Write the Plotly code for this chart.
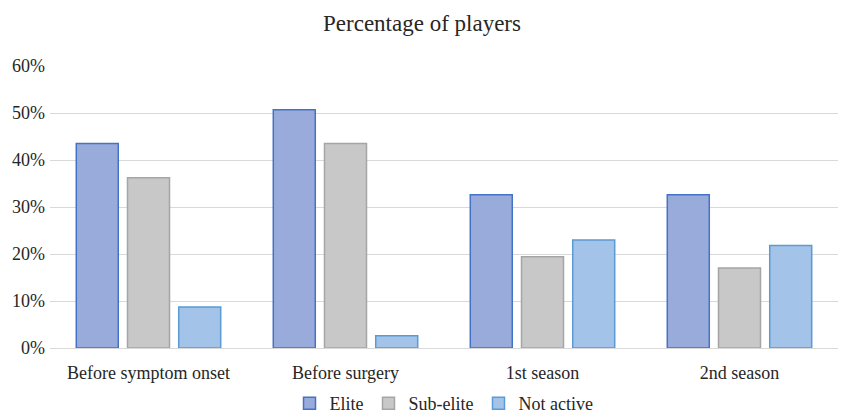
import plotly.graph_objects as go

categories = ["Before symptom onset", "Before surgery", "1st season", "2nd season"]
elite = [43.5, 50.7, 32.6, 32.6]
sub_elite = [36.2, 43.5, 19.4, 17.0]
not_active = [8.7, 2.6, 23.0, 21.8]

series = [
    ("Elite", elite, "#99abdb", "#4472c4"),
    ("Sub-elite", sub_elite, "#c8c8c8", "#a5a5a5"),
    ("Not active", not_active, "#a3c3e8", "#5b9bd5"),
]

fig = go.Figure()
for name, vals, fill, edge in series:
    fig.add_trace(go.Bar(
        x=categories, y=vals, name=name,
        marker=dict(color=fill, line=dict(color=edge, width=1.5)),
    ))

font_family = "Liberation Serif, Times New Roman, serif"
fig.update_layout(
    width=844, height=416,
    margin=dict(l=50, r=6, t=66, b=68, autoexpand=False),
    paper_bgcolor="white", plot_bgcolor="white",
    font=dict(family=font_family, size=18, color="#262626"),
    title=dict(text="Percentage of players", x=0.5, xanchor="center",
               y=0.945, yanchor="middle", font=dict(size=23, color="#262626")),
    barmode="group", bargap=0.22, bargroupgap=0.18,
    showlegend=True,
    legend=dict(orientation="h", x=0.5, xanchor="center",
                yref="container", y=0.03, yanchor="middle",
                bgcolor="rgba(0,0,0,0)",
                font=dict(size=18), itemwidth=30, traceorder="normal"),
)
fig.update_yaxes(range=[0, 60], dtick=10, ticksuffix="%", showgrid=True,
                 gridcolor="#d9d9d9", gridwidth=1, zeroline=False,
                 showline=False, ticks="", ticklabelstandoff=4)
fig.update_xaxes(showline=True, linecolor="#d9d9d9", linewidth=1, ticks="",
                 showgrid=False, ticklabelstandoff=8)

fig.write_html("out.html")
